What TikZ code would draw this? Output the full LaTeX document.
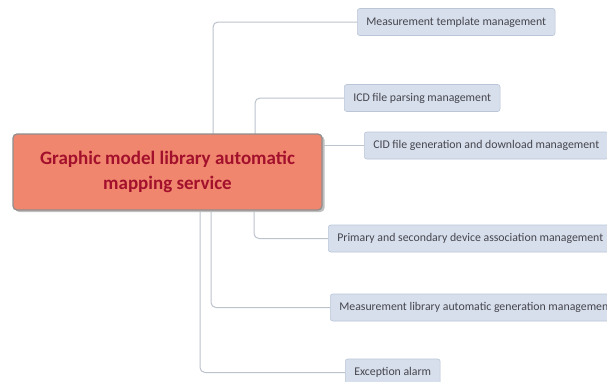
\documentclass[tikz,border=0pt]{standalone}
\usepackage{fontspec}
\setmainfont{Carlito}
\definecolor{rootfill}{HTML}{F0866E}
\definecolor{rootdraw}{HTML}{8E8E8E}
\definecolor{roottext}{HTML}{A3102C}
\definecolor{leaffill}{HTML}{D7DFEC}
\definecolor{leafdraw}{HTML}{BAC6D8}
\definecolor{leaftext}{HTML}{45454D}
\definecolor{linkcol}{HTML}{BCC3CD}
\tikzset{
  rootbox/.style={draw=rootdraw, line width=1.2pt, fill=rootfill, rounded corners=4pt,
    minimum width=309pt, minimum height=76pt, align=center, text=roottext,
    font=\fontsize{19}{25}\selectfont\bfseries, inner sep=0pt},
  leafbox/.style={draw=leafdraw, line width=0.6pt, fill=leaffill, rounded corners=2.5pt,
    minimum height=27pt, anchor=west, inner xsep=9pt, inner ysep=0pt, text=leaftext,
    font=\fontsize{11.8}{14}\selectfont},
  link/.style={draw=linkcol, line width=1pt, rounded corners=5pt},
}
\begin{document}
\begin{tikzpicture}[x=1pt, y=-1pt]
\useasboundingbox (0,0) rectangle (607,381);
\fill[white] (0,0) rectangle (607,381);

% leaves
\node[leafbox] (mt)  at (357,22)    {Measurement template management};
\node[leafbox] (icd) at (344,98)    {ICD file parsing management};
\node[leafbox] (cid) at (364,145.5) {CID file generation and download management};
\node[leafbox] (pr)  at (328,238.5) {Primary and secondary device association management};
\node[leafbox] (ml)  at (330,307.5) {Measurement library automatic generation management};
\node[leafbox] (ex)  at (345,372.5) {Exception alarm};

% connectors from the central topic
\path (167.5,172) coordinate (rc);
\draw[link] (rc -| 213,0) ++(0,-38) |- (mt.west);
\draw[link] (rc -| 255,0) ++(0,-38) |- (icd.west);
\draw[link] (cid.west -| 322,0) -- (cid.west);
\draw[link] (rc -| 254,0) ++(0,38) |- (pr.west);
\draw[link] (rc -| 211,0) ++(0,38) |- (ml.west);
\draw[link] (rc -| 200,0) ++(0,38) |- (ex.west);

% central topic with a soft shadow
\fill[black!25, rounded corners=4pt] (15,136) rectangle (324.5,212);
\node[rootbox] (root) at (rc) {Graphic model library automatic\\mapping service};
\end{tikzpicture}
\end{document}
